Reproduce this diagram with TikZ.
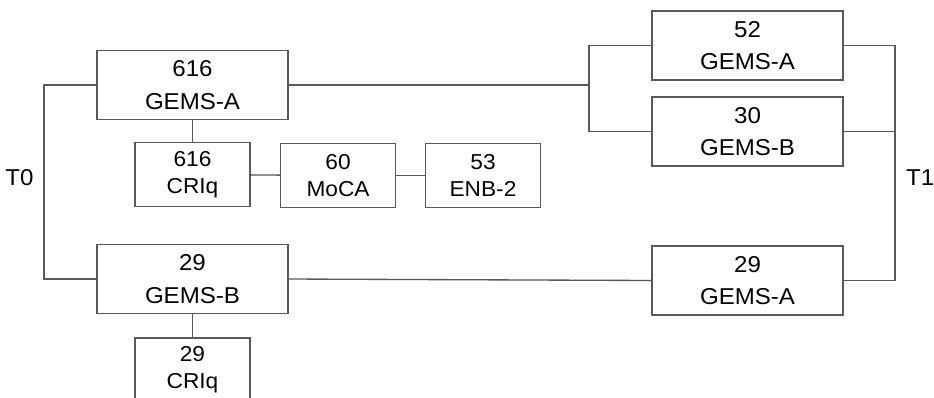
\documentclass[tikz,border=0pt]{standalone}
\usepackage{fontspec}
\setmainfont{Liberation Sans}[FakeStretch=1.05]
\usetikzlibrary{positioning}
\begin{document}
\begin{tikzpicture}[x=0.75pt, y=-0.75pt, line width=1pt, big_box/.style={rectangle,draw=black!65,minimum width=143.25pt,minimum height=51.75pt,inner sep=0pt,align=center,font=\fontsize{17.2pt}{24.2pt}\selectfont},small_box/.style={rectangle,draw=black!65,minimum width=86.25pt,minimum height=48pt,inner sep=0pt,align=center,font=\fontsize{16.2pt}{20.3pt}\selectfont},edge_style/.style={draw=black!65},time_style/.style={font=\fontsize{17.2pt}{20pt}\selectfont}]
      \useasboundingbox (0,0) rectangle (934,397);
      \draw
        (192.5,85) node[big_box] (gems_a0){616\\GEMS-A}
        (192.5,174.5) node[small_box] (criq0){616\\CRIq}
        (338,175.5) node[small_box] (moca){60\\MoCA}
        (483,175.5) node[small_box] (enb){53\\ENB-2}
        (192.5,279) node[big_box] (gems_b0){29\\GEMS-B}
        (192.5,370) node[small_box] (criq1){29\\CRIq}
        (747.5,45.5) node[big_box] (gems_a1){52\\GEMS-A}
        (747.5,131.5) node[big_box] (gems_b1){30\\GEMS-B}
        (747.5,280.5) node[big_box] (gems_a2){29\\GEMS-A};
      \coordinate (t0) at (44,178);
      \coordinate (split) at (589,85);
      \coordinate (t1) at (895,178);
      \node[time_style, left=4pt of t0] (t0_label) {T0};
      \node[time_style, right=4.5pt of t1] (t1_label) {T1};
      \begin{scope}[-]
        \draw[edge_style] (gems_a0) -- (criq0);
        \draw[edge_style] (criq0) -- (moca);
        \draw[edge_style] (moca) -- (enb);
        \draw[edge_style] (gems_b0) -- (criq1);
        \draw[edge_style] (gems_a0.west) -| (t0) |- (gems_b0.west);
        \draw[edge_style] (gems_a0.east) -- (split);
        \draw[edge_style] (gems_a1.west) -| (split) |- (gems_b1.west);
        \draw[edge_style] (gems_a1.east) -| (t1) |- (gems_a2.east);
        \draw[edge_style] (gems_b1.east) -- (gems_b1.east -| t1);
        \draw[edge_style] (gems_b0.east) -- (gems_a2.west);
      \end{scope}
    \end{tikzpicture}
\end{document}
